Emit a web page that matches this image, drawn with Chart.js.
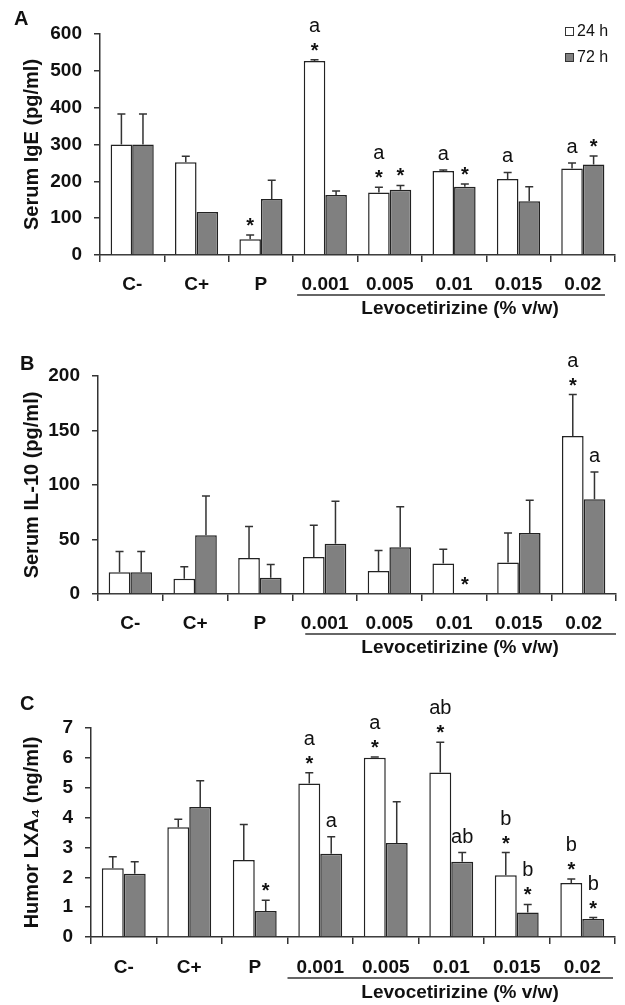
<!DOCTYPE html>
<html>
<head>
<meta charset="utf-8">
<script src="https://cdn.jsdelivr.net/npm/chart.js@4.4.1/dist/chart.umd.min.js"></script>
<style>
  body { margin: 0; background: #fff; width: 625px; height: 1005px; position: relative; overflow: hidden; }
  canvas { position: absolute; left: 0; }
</style>
</head>
<body>
<canvas id="chartA" width="625" height="330" style="top:0px"></canvas>
<canvas id="chartB" width="625" height="335" style="top:335px"></canvas>
<canvas id="chartC" width="625" height="330" style="top:675px"></canvas>
<script>
// ======================================
// DATA
// ======================================
const categories = ["C-", "C+", "P", "0.001", "0.005", "0.01", "0.015", "0.02"];
const seriesNames = ["24 h", "72 h"];

// Panel A - Serum IgE (pg/ml)
const ige24 = [300, 252, 43, 527, 170, 228, 206, 235];
const ige24Err = [83, 16, 11, 3, 14, 3, 18, 15];
const ige72 = [300, 117, 152, 163, 177, 185, 146, 246];
const ige72Err = [83, null, 51, 11, 12, 8, 39, 23];
const ige24Stars = [0, 0, 1, 1, 1, 0, 0, 0];
const ige24Letters = ["", "", "", "a", "a", "a", "a", "a"];
const ige72Stars = [0, 0, 0, 0, 1, 1, 0, 1];
const ige72Letters = ["", "", "", "", "", "", "", ""];

// Panel B - Serum IL-10 (pg/ml)
const il10_24 = [20, 14, 33, 34, 21, 28, 29, 145];
const il10_24Err = [19, 11, 29, 29, 19, 13, 27, 38];
const il10_72 = [20, 54, 15, 46, 43, 0, 56, 87];
const il10_72Err = [19, 36, 12, 39, 37, null, 30, 25];
const il10_24Stars = [0, 0, 0, 0, 0, 0, 0, 1];
const il10_24Letters = ["", "", "", "", "", "", "", "a"];
const il10_72Stars = [0, 0, 0, 0, 0, 1, 0, 0];
const il10_72Letters = ["", "", "", "", "", "", "", "a"];

// Panel C - Humor LXA4 (ng/ml)
const lxa24 = [2.30, 3.68, 2.58, 5.14, 6.00, 5.51, 2.07, 1.81];
const lxa24Err = [0.39, 0.26, 1.19, 0.36, 0.03, 1.01, 0.76, 0.13];
const lxa72 = [2.12, 4.35, 0.87, 2.79, 3.15, 2.52, 0.82, 0.60];
const lxa72Err = [0.40, 0.88, 0.36, 0.57, 1.38, 0.31, 0.27, 0.05];
const lxa24Stars = [0, 0, 0, 1, 1, 1, 1, 1];
const lxa24Letters = ["", "", "", "a", "a", "ab", "b", "b"];
const lxa72Stars = [0, 0, 1, 0, 0, 0, 1, 1];
const lxa72Letters = ["", "", "", "a", "", "ab", "b", "b"];

const groupTitle = "Levocetirizine (% v/w)";

// ======================================
// STYLE
// ======================================
const FONT = "'Liberation Sans', Arial, sans-serif";
const INK = "#111";
const LINE = "#333";
Chart.defaults.font.family = FONT;
Chart.defaults.color = INK;

// ======================================
// DRAW EXTRAS: error bars, marks, legend, group label
// ======================================
const extrasPlugin = {
    id: "extras",
    afterDatasetsDraw(chart) {
        const ctx = chart.ctx;
        const y = chart.scales.y;
        ctx.save();
        ctx.textAlign = "center";
        chart.data.datasets.forEach((ds, di) => {
            const meta = chart.getDatasetMeta(di);
            meta.data.forEach((bar, i) => {
                let top = bar.y;
                const sd = ds.errors[i];
                if (sd != null) {
                    top = y.getPixelForValue(ds.data[i] + sd);
                    ctx.strokeStyle = LINE;
                    ctx.lineWidth = 1.5;
                    ctx.beginPath();
                    ctx.moveTo(bar.x, bar.y);
                    ctx.lineTo(bar.x, top);
                    ctx.moveTo(bar.x - 4, top);
                    ctx.lineTo(bar.x + 4, top);
                    ctx.stroke();
                }
                ctx.fillStyle = INK;
                let base = top - 10;
                if (ds.stars[i]) {
                    ctx.font = "bold 20px " + FONT;
                    ctx.fillText("*", bar.x, top - 3);
                    base = top - 28;
                }
                if (ds.letters[i]) {
                    ctx.font = "20px " + FONT;
                    ctx.fillText(ds.letters[i], bar.x, base);
                }
            });
        });
        ctx.restore();
    },
    afterDraw(chart, args, opts) {
        const ctx = chart.ctx;
        const x = chart.scales.x;
        const area = chart.chartArea;
        ctx.save();
        ctx.fillStyle = INK;
        // panel letter
        ctx.font = "bold 20px " + FONT;
        ctx.textAlign = "left";
        ctx.fillText(opts.letter, opts.letterPos[0], opts.letterPos[1]);
        // underline for drug concentrations
        const step = (x.right - x.left) / categories.length;
        const u0 = x.left + step * 3 + opts.underline[0];
        const u1 = x.right + opts.underline[1];
        const uy = area.bottom + opts.underlineY;
        ctx.strokeStyle = LINE;
        ctx.lineWidth = 1.5;
        ctx.beginPath();
        ctx.moveTo(u0, uy);
        ctx.lineTo(u1, uy);
        ctx.stroke();
        ctx.font = "bold 19px " + FONT;
        ctx.textAlign = "center";
        ctx.fillText(groupTitle, opts.groupX, area.bottom + opts.groupY);
        // legend
        if (opts.legend) {
            ctx.font = "16px " + FONT;
            ctx.textAlign = "left";
            chart.data.datasets.forEach((ds, di) => {
                const ly = 27 + di * 26;
                ctx.fillStyle = ds.backgroundColor;
                ctx.fillRect(565, ly, 8, 8);
                ctx.strokeStyle = LINE;
                ctx.lineWidth = 1;
                ctx.strokeRect(565.5, ly + 0.5, 8, 8);
                ctx.fillStyle = INK;
                ctx.fillText(ds.label, 577, ly + 9);
            });
        }
        ctx.restore();
    }
};

// ======================================
// CHART BUILDER
// ======================================
function makePanel(id, p) {
    const mk = (i, data, errors, stars, letters, color) => ({
        label: seriesNames[i],
        data: data,
        errors: errors,
        stars: stars,
        letters: letters,
        backgroundColor: color,
        borderColor: "#222",
        borderWidth: 1.5,
        categoryPercentage: 0.67,
        barPercentage: 1.0
    });
    return new Chart(document.getElementById(id), {
        type: "bar",
        data: {
            labels: categories,
            datasets: [
                mk(0, p.d24, p.e24, p.s24, p.l24, "#ffffff"),
                mk(1, p.d72, p.e72, p.s72, p.l72, "#808080")
            ]
        },
        options: {
            responsive: false,
            animation: false,
            layout: { padding: { top: p.plotTop, right: 625 - p.plotRight, left: 0, bottom: 0 } },
            plugins: {
                legend: { display: false },
                tooltip: { enabled: false },
                extras: {
                    letter: p.letter,
                    letterPos: p.letterPos,
                    underline: p.underline,
                    underlineY: p.underlineY,
                    groupX: 460,
                    groupY: p.groupY,
                    legend: p.legend
                }
            },
            scales: {
                x: {
                    offset: true,
                    ticks: { font: { size: 19, weight: "bold" }, color: INK, padding: p.tickPad, maxRotation: 0, autoSkip: false },
                    grid: { offset: true, drawOnChartArea: false, tickLength: 7, color: LINE, lineWidth: 1.5 },
                    border: { display: true, color: LINE, width: 1.5 },
                    afterFit: s => { s.height = p.height - p.plotBottom; }
                },
                y: {
                    min: 0,
                    max: p.yMax,
                    ticks: { stepSize: p.step, font: { size: 19, weight: "bold" }, color: INK, padding: 12 },
                    grid: { drawOnChartArea: false, tickLength: 6, color: LINE, lineWidth: 1.5 },
                    border: { display: true, color: LINE, width: 1.5 },
                    title: { display: true, text: p.yTitle, font: { size: 20, weight: "bold" }, color: INK, padding: { top: 20 } },
                    afterFit: s => { s.width = p.plotLeft; }
                }
            }
        },
        plugins: [extrasPlugin]
    });
}

makePanel("chartA", {
    d24: ige24, e24: ige24Err, s24: ige24Stars, l24: ige24Letters,
    d72: ige72, e72: ige72Err, s72: ige72Stars, l72: ige72Letters,
    yMax: 600, step: 100, yTitle: "Serum IgE (pg/ml)",
    plotLeft: 100, plotRight: 615, plotTop: 34, plotBottom: 255, height: 330,
    tickPad: 11, underlineY: 40, groupY: 59,
    letter: "A", letterPos: [14, 25], underline: [4, -10], legend: true
});

makePanel("chartB", {
    d24: il10_24, e24: il10_24Err, s24: il10_24Stars, l24: il10_24Letters,
    d72: il10_72, e72: il10_72Err, s72: il10_72Stars, l72: il10_72Letters,
    yMax: 200, step: 50, yTitle: "Serum IL-10 (pg/ml)",
    plotLeft: 98, plotRight: 616, plotTop: 41, plotBottom: 259, height: 335,
    tickPad: 11, underlineY: 40, groupY: 59,
    letter: "B", letterPos: [20, 35], underline: [13, 0], legend: false
});

makePanel("chartC", {
    d24: lxa24, e24: lxa24Err, s24: lxa24Stars, l24: lxa24Letters,
    d72: lxa72, e72: lxa72Err, s72: lxa72Stars, l72: lxa72Letters,
    yMax: 7, step: 1, yTitle: "Humor LXA\u2084 (ng/ml)",
    plotLeft: 91, plotRight: 615, plotTop: 53, plotBottom: 262, height: 330,
    tickPad: 12, underlineY: 41, groupY: 61,
    letter: "C", letterPos: [20, 35], underline: [0, -2], legend: false
});
</script>
</body>
</html>
